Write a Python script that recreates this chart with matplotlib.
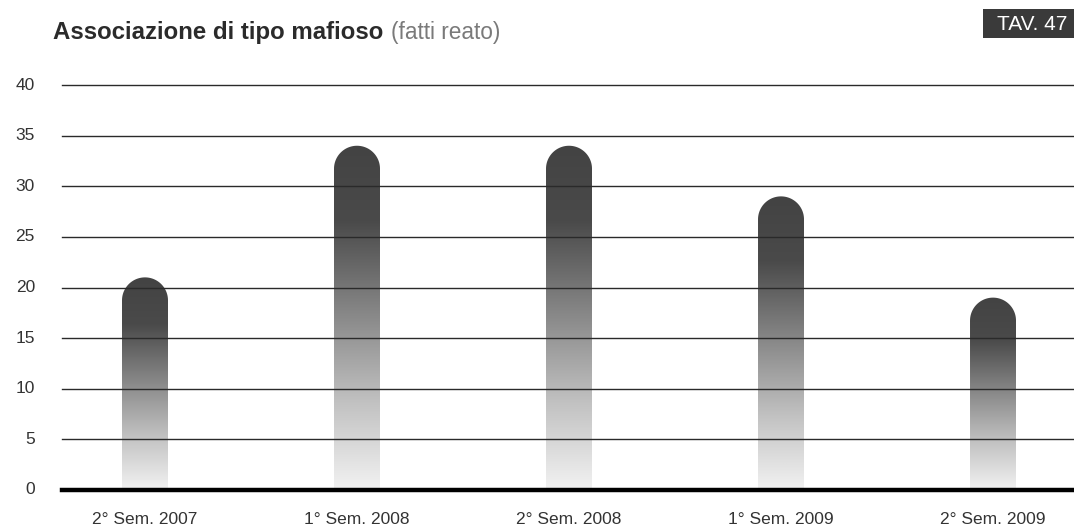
import numpy as np
import matplotlib
matplotlib.use("Agg")
import matplotlib.pyplot as plt
from matplotlib.colors import LinearSegmentedColormap
from matplotlib.path import Path
from matplotlib.patches import PathPatch, Rectangle

plt.rcParams['font.family'] = ['Liberation Sans', 'DejaVu Sans']

# Data
categories = ["2° Sem. 2007", "1° Sem. 2008", "2° Sem. 2008", "1° Sem. 2009", "2° Sem. 2009"]
values = [21, 34, 34, 29, 19]
yticks = [0, 5, 10, 15, 20, 25, 30, 35, 40]

W, H = 1074, 525
fig = plt.figure(figsize=(W / 100, H / 100), dpi=100)
fig.patch.set_facecolor("white")

ax_left, ax_bottom = 62 / W, 35 / H
ax_w, ax_h = 1012 / W, 405 / H
ax = fig.add_axes([ax_left, ax_bottom, ax_w, ax_h])
x0, x1 = -0.3915, 4.382
ax.set_xlim(x0, x1)
ax.set_ylim(0, 40)
ax.axis("off")

# pixel scales for the rounded caps
px_per_x = 1012 / (x1 - x0)
px_per_y = 405 / 40
half_w = 23 / px_per_x
ry = 23 / px_per_y

cmap = LinearSegmentedColormap.from_list(
    "bar_grad",
    [(0.0, "#f2f2f2"), (0.25, "#c2c2c2"), (0.5, "#8a8a8a"), (0.78, "#4a4a4a"), (1.0, "#434343")],
)
grad = np.linspace(0, 1, 256).reshape(-1, 1)

for i, v in enumerate(values):
    xl, xr = i - half_w, i + half_w
    t = np.linspace(0, np.pi, 60)
    arc = np.column_stack([i + half_w * np.cos(t), v - ry + ry * np.sin(t)])
    verts = np.vstack([[xl, 0], [xr, 0], [xr, v - ry], arc, [xl, v - ry], [xl, 0]])
    codes = [Path.MOVETO] + [Path.LINETO] * (len(verts) - 2) + [Path.CLOSEPOLY]
    clip = PathPatch(Path(verts, codes), transform=ax.transData, facecolor="none", edgecolor="none")
    ax.add_patch(clip)
    im = ax.imshow(grad, cmap=cmap, origin="lower", extent=[xl, xr, 0, v],
                   aspect="auto", interpolation="bilinear", zorder=1)
    im.set_clip_path(clip)

# grid lines over the bars
for yv in yticks[1:]:
    ax.axhline(yv, color="#2a2a2a", lw=1.0, zorder=3, clip_on=False)
ax.axhline(0, color="#000000", lw=3.2, zorder=4, clip_on=False)

# y tick labels
for yv in yticks:
    ax.text(x0 - 27 / px_per_x, yv, str(yv), ha="right", va="center",
            fontsize=12.5, color="#333333", zorder=5)

# category labels
for i, c in enumerate(categories):
    fig.text((62 + (i - x0) * px_per_x) / W, 6 / H, c, ha="center", va="center",
             fontsize=12.5, color="#333333")

# title
t1 = fig.text(53 / W, 1 - 33 / H, "Associazione di tipo mafioso", ha="left", va="center",
              fontsize=17.3, fontweight="heavy", color="#2b2b2b")
fig.canvas.draw()
bb = t1.get_window_extent()
fig.text((bb.x1 + 8) / W, 1 - 33 / H, "(fatti reato)", ha="left", va="center",
         fontsize=16.3, color="#7a7a7a")

# table tag
fig.patches.append(Rectangle((983 / W, 1 - 38 / H), 100 / W, 29 / H, transform=fig.transFigure,
                             facecolor="#3a3a3a", edgecolor="none"))
fig.text(1032 / W, 1 - 24 / H, "TAV. 47", ha="center", va="center",
         fontsize=15, color="white")

fig.savefig("out.png", dpi=100, facecolor="white")
